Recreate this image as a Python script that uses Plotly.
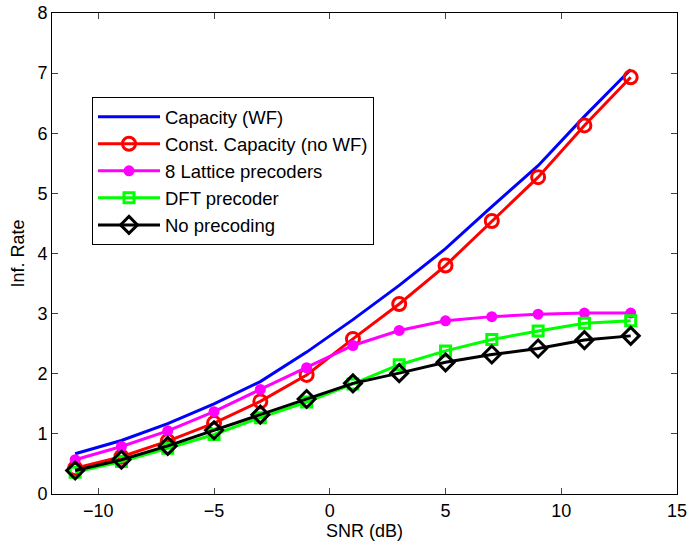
import plotly.graph_objects as go

snr = [-11, -9, -7, -5, -3, -1, 1, 3, 5, 7, 9, 11, 13]
cap_wf = [0.67, 0.89, 1.17, 1.50, 1.87, 2.36, 2.90, 3.47, 4.08, 4.78, 5.46, 6.28, 7.06]
const_cap = [0.43, 0.62, 0.88, 1.18, 1.54, 1.98, 2.58, 3.16, 3.80, 4.54, 5.27, 6.13, 6.93]
lattice8 = [0.57, 0.79, 1.05, 1.37, 1.74, 2.10, 2.47, 2.72, 2.88, 2.95, 2.99, 3.01, 3.01]
dft = [0.36, 0.54, 0.76, 0.99, 1.27, 1.53, 1.83, 2.15, 2.38, 2.57, 2.71, 2.84, 2.88]
no_prec = [0.39, 0.57, 0.80, 1.06, 1.32, 1.58, 1.84, 2.01, 2.19, 2.32, 2.42, 2.56, 2.63]

x_ticks = [-10, -5, 0, 5, 10, 15]
y_ticks = [0, 1, 2, 3, 4, 5, 6, 7, 8]

fig = go.Figure()
fig.add_trace(go.Scatter(x=snr, y=cap_wf, mode="lines", name="Capacity (WF)",
                         line=dict(color="#0000ff", width=3)))
fig.add_trace(go.Scatter(x=snr, y=const_cap, mode="lines+markers", name="Const. Capacity (no WF)",
                         line=dict(color="#ff0000", width=3),
                         marker=dict(symbol="circle-open", size=13, color="#ff0000",
                                     line=dict(width=3, color="#ff0000"))))
fig.add_trace(go.Scatter(x=snr, y=lattice8, mode="lines+markers", name="8 Lattice precoders",
                         line=dict(color="#ff00ff", width=3),
                         marker=dict(symbol="circle", size=11, color="#ff00ff")))
fig.add_trace(go.Scatter(x=snr, y=dft, mode="lines+markers", name="DFT precoder",
                         line=dict(color="#00ff00", width=3),
                         marker=dict(symbol="square-open", size=10, color="#00ff00",
                                     line=dict(width=3, color="#00ff00"))))
fig.add_trace(go.Scatter(x=snr, y=no_prec, mode="lines+markers", name="No precoding",
                         line=dict(color="#000000", width=3),
                         marker=dict(symbol="diamond-open", size=13, color="#000000",
                                     line=dict(width=3, color="#000000"))))

fig.update_layout(
    width=687, height=545,
    margin=dict(l=52, r=10, t=13, b=51),
    paper_bgcolor="white", plot_bgcolor="white",
    font=dict(family="Liberation Sans, Arial, sans-serif", size=18, color="black"),
    showlegend=True,
    legend=dict(x=0.064, y=0.825, xanchor="left", yanchor="top",
                bgcolor="white", bordercolor="black", borderwidth=1,
                font=dict(size=18.5), tracegroupgap=0, itemwidth=62),
    xaxis=dict(range=[-12, 15], tickvals=x_ticks, ticks="inside", ticklen=6,
               showgrid=False, zeroline=False, showline=True, linecolor="black",
               linewidth=1, mirror="ticks", automargin=False,
               ticklabeloverflow="allow",
               tickfont=dict(size=18),
               title=dict(text="SNR (dB)", font=dict(size=18), standoff=4)),
    yaxis=dict(range=[0, 8], tickvals=y_ticks, ticks="inside", ticklen=6,
               showgrid=False, zeroline=False, showline=True, linecolor="black",
               linewidth=1, mirror="ticks", automargin=False,
               ticklabeloverflow="allow",
               tickfont=dict(size=18),
               title=dict(text="Inf. Rate", font=dict(size=18), standoff=8)),
)

fig.write_html(
    "out.html",
    config={"displayModeBar": False},
    post_script="document.body.style.margin='0px';document.body.style.overflow='hidden';",
)
